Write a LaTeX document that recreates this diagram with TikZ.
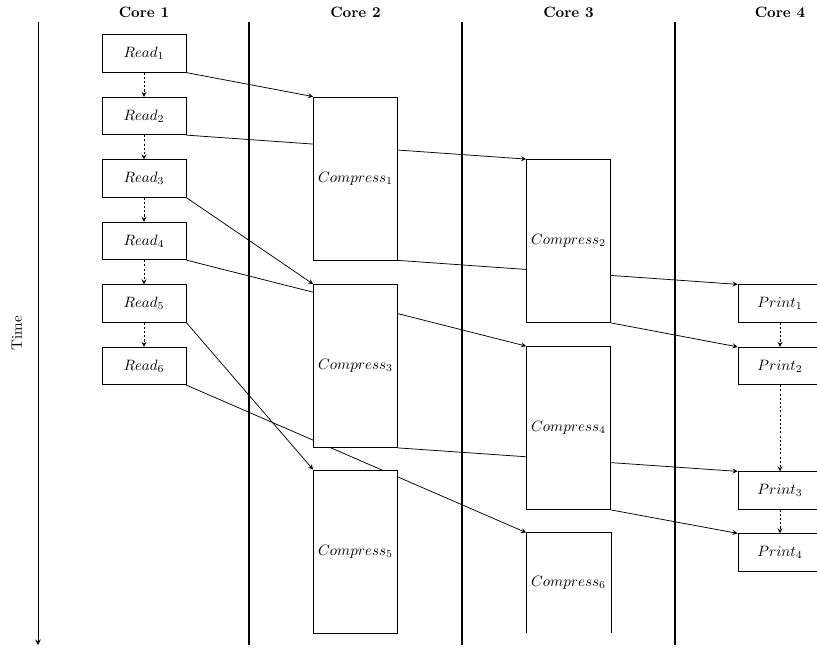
\documentclass[tikz,border=0pt]{standalone}
\usetikzlibrary{arrows}
\pgfdeclarelayer{bg}
\pgfsetlayers{bg,main}
\begin{document}
\begin{tikzpicture}[x=0.6667pt,y=-0.6667pt,
  task/.style={draw,fill=white,line width=0.5pt,minimum width=56pt,inner sep=0pt},
  shorttask/.style={task,minimum height=25pt},
  longtask/.style={task,minimum height=108.7pt},
  corehead/.style={font=\bfseries},
  coreline/.style={line width=1.2pt},
  flow/.style={-stealth,line width=0.5pt},
  seq/.style={-stealth,dash pattern=on 1.4pt off 1.4pt,line width=0.5pt}]
\useasboundingbox (0,0) rectangle (817,649);
\clip (0,0) rectangle (817,649);

% column headings and core separators
\node[corehead] (h1) at (144,12) {Core 1};
\node[corehead] (h2) at (355.5,12) {Core 2};
\node[corehead] (h3) at (568.5,12) {Core 3};
\node[corehead] (h4) at (780,12) {Core 4};
\foreach \x/\n in {249/a,462/b,675/c} {
  \coordinate (top\n) at (\x,22);
  \coordinate (bot\n) at (\x,645);
  \draw[coreline] (top\n) -- (bot\n);
}

% time axis
\coordinate (t0) at (38,22);
\coordinate (t1) at (38,645);
\draw[-stealth,line width=0.6pt] (t0) -- (t1);
\node[rotate=90] (time) at (17,333) {Time};

% core 1: reads
\foreach \i/\y in {1/53.5,2/116,3/178.5,4/241,5/303.5,6/366}
  \node[shorttask] (r\i) at (144,\y) {$Read_{\i}$};

% cores 2 and 3: compression
\node[longtask] (c1) at (355.5,178.5) {$Compress_1$};
\node[longtask] (c2) at (568.5,241) {$Compress_2$};
\node[longtask] (c3) at (355.5,366) {$Compress_3$};
\node[longtask] (c4) at (568.5,428) {$Compress_4$};
\node[longtask] (c5) at (355.5,551.5) {$Compress_5$};
\node[task,draw=none,minimum height=66.7pt] (c6) at (568.5,583) {$Compress_6$};
\draw[line width=0.5pt] (c6.south west) -- (c6.north west) -- (c6.north east) -- (c6.south east);

% core 4: prints
\node[shorttask] (p1) at (780,303.5) {$Print_1$};
\node[shorttask] (p2) at (780,366) {$Print_2$};
\node[shorttask] (p3) at (780,490.5) {$Print_3$};
\node[shorttask] (p4) at (780,552.5) {$Print_4$};

% ordering within a core
\foreach \a/\b in {r1/r2,r2/r3,r3/r4,r4/r5,r5/r6,p1/p2,p2/p3,p3/p4}
  \draw[seq] (\a.south) -- (\b.north);

% data flow between cores
\begin{pgfonlayer}{bg}
\foreach \a/\b in {r1/c1,r2/c2,r3/c3,r4/c4,r5/c5,r6/c6,c1/p1,c2/p2,c3/p3,c4/p4}
  \draw[flow] (\a.south east) -- (\b.north west);
\end{pgfonlayer}
\end{tikzpicture}
\end{document}
